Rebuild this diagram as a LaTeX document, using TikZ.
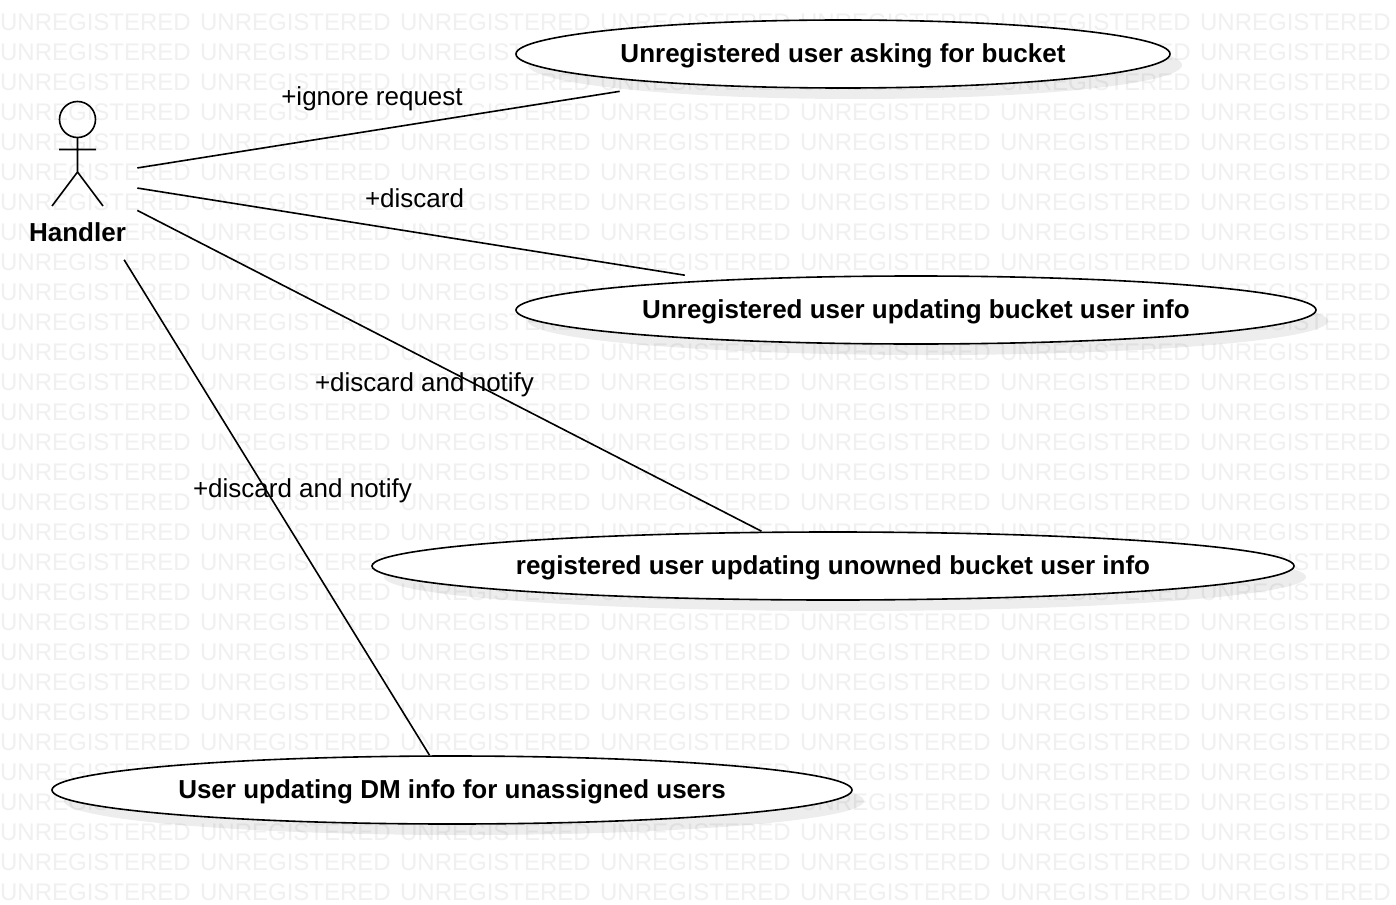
\documentclass[tikz,border=0pt]{standalone}
\usepackage{fontspec}
\setmainfont{Liberation Sans}
\usetikzlibrary{shapes.geometric,shadows}
\definecolor{markgray}{HTML}{F0F0F0}
\tikzset{
  oval/.style={ellipse,draw,fill=white,inner sep=0pt,minimum height=68pt,
    drop shadow={shadow xshift=12pt,shadow yshift=-11pt,opacity=0.07,fill=black}},
  casetext/.style={rectangle,inner sep=0pt,minimum height=72pt,font=\fontsize{26}{30}\selectfont\bfseries},
  msg/.style={inner sep=0pt,font=\fontsize{26}{30}\selectfont},
  mark text/.style={inner sep=0pt,anchor=west,text=markgray,font=\fontsize{24}{28}\selectfont}
}
\begin{document}
\begin{tikzpicture}[line width=1.6pt,x=1pt,y=-1pt]
\useasboundingbox (0,0) rectangle (1396,904);
\fill[white] (0,0) rectangle (1396,904);
\foreach \r in {0,...,29}
  \foreach \c in {0,...,6}
    \node[mark text] (mark-\r-\c) at (200*\c-0.7,22+30*\r) {UNREGISTERED};

\node[oval,minimum width=654pt] (askoval) at (843,54) {};
\node[oval,minimum width=800pt] (infooval) at (916,310) {};
\node[oval,minimum width=922pt] (unownedoval) at (833,566) {};
\node[oval,minimum width=800pt] (dmoval) at (452,790) {};
\node[casetext] (ask) at (843,56) {Unregistered user asking for bucket};
\node[casetext] (info) at (916,312) {Unregistered user updating bucket user info};
\node[casetext] (unowned) at (833,568) {registered user updating unowned bucket user info};
\node[casetext] (dm) at (452,792) {User updating DM info for unassigned users};

\node[rectangle,inner sep=0pt,minimum width=125pt,minimum height=162pt] (handler) at (74,178) {};
\node[casetext,minimum height=0pt] (handlerlabel) at (77.5,232) {Handler};
\draw (77.5,119.5) circle (18);
\draw (77.5,137.5)--(77.5,172) (59,149.5)--(96,149.5) (52,206)--(77.5,172)--(103,206);

\draw (handler)--(ask);
\draw (handler)--(info);
\draw (handler)--(unowned);
\draw (handler)--(dm);

\node[msg] (ignore) at (372,99) {+ignore request};
\node[msg] (discard) at (414.5,198) {+discard};
\node[msg] (notifyone) at (424.5,385) {+discard and notify};
\node[msg] (notifytwo) at (302.5,491) {+discard and notify};
\end{tikzpicture}
\end{document}
